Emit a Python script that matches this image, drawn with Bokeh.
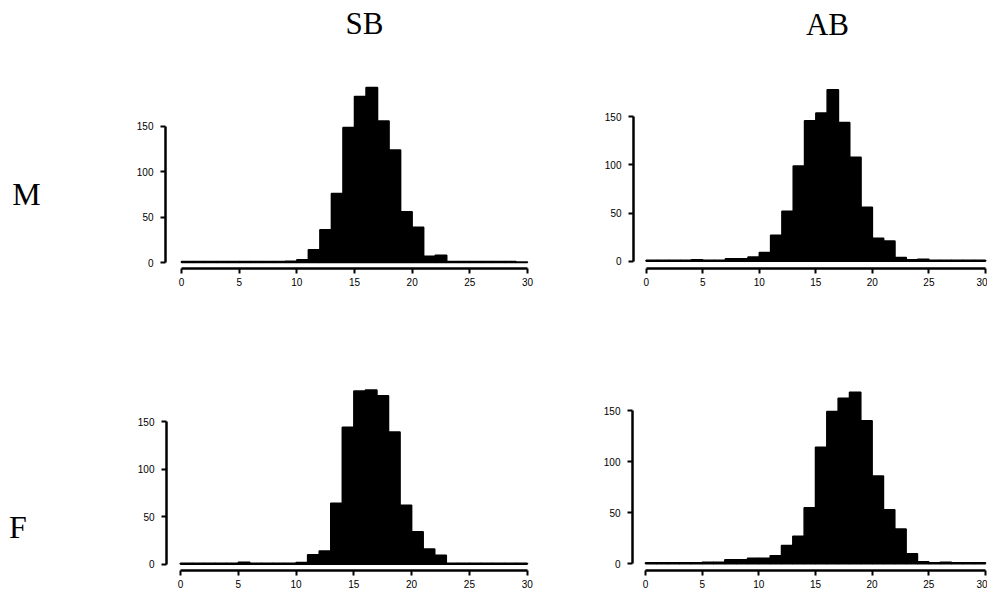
from bokeh.plotting import figure
from bokeh.layouts import column, row
from bokeh.core.properties import value
from bokeh.embed import file_html
from bokeh.resources import INLINE

# ---- data (counts per unit-width bin, 0..30) ----
BIN_EDGES = list(range(0, 31))
X_TICKS = [0, 5, 10, 15, 20, 25, 30]
Y_TICKS = [0, 50, 100, 150]
COL_LABELS = ["SB", "AB"]
ROW_LABELS = ["M", "F"]

M_SB = [1, 1, 1, 1, 1, 1, 1, 1, 1, 1.5, 3, 14, 36, 76, 149, 183, 193, 156, 124,
        56, 39, 7, 8, 1, 1, 1, 1, 1, 1, 0.5]
M_AB = [1, 1, 1, 1, 1.5, 1, 1, 2.5, 2.5, 4.5, 9, 27, 52, 99, 146, 154, 178, 144,
        108, 56, 24, 21, 4, 1.5, 2, 1, 1, 1, 1, 1]
F_SB = [1, 1, 1, 1, 1, 2, 1, 1, 1, 1, 1.7, 10, 14, 64, 144, 182, 183, 177, 139,
        62, 34, 16, 9.5, 1, 1, 1, 1, 1, 1, 1]
F_AB = [1, 1, 1, 1, 1, 1.5, 1.5, 4, 4, 5.5, 5.5, 8, 18, 27, 55, 114, 149, 162,
        168, 140, 86, 53, 34, 10, 2, 1, 1.5, 1, 1, 1]

LABEL_FONT = "Liberation Serif"
TOTAL_W = 987
HEADER_H = 50
ROW1_H = 250
ROW2_H = 292
LEFT_W = 60


def text_fig(width, height):
    p = figure(width=width, height=height, x_range=(0, width), y_range=(0, height),
               output_backend="svg", toolbar_location=None,
               min_border=0, x_axis_type=None, y_axis_type=None)
    p.title.visible = False
    p.xgrid.visible = False
    p.ygrid.visible = False
    p.outline_line_color = None
    return p


def panel(counts, width, height, xr, yr, mb_left, mb_right, mb_top, mb_bottom):
    p = figure(width=width, height=height, x_range=xr, y_range=yr,
               output_backend="svg", toolbar_location=None,
               min_border_left=mb_left, min_border_right=mb_right,
               min_border_top=mb_top, min_border_bottom=mb_bottom)
    p.title.visible = False
    p.quad(left=BIN_EDGES[:-1], right=BIN_EDGES[1:], bottom=0, top=counts,
           fill_color="black", line_color="black", line_width=1.5)
    p.xgrid.visible = False
    p.ygrid.visible = False
    p.outline_line_color = None
    p.xaxis.ticker = X_TICKS
    p.yaxis.ticker = Y_TICKS
    p.xaxis.bounds = (X_TICKS[0], X_TICKS[-1])
    p.yaxis.bounds = (Y_TICKS[0], Y_TICKS[-1])
    for ax in (p.xaxis, p.yaxis):
        ax.axis_line_width = 2.5
        ax.axis_line_color = "black"
        ax.major_tick_line_width = 2
        ax.major_tick_line_color = "black"
        ax.major_tick_out = 5
        ax.major_tick_in = 0
        ax.minor_tick_line_color = None
        ax.major_label_text_font = "Liberation Sans"
        ax.major_label_text_font_size = "10px"
        ax.major_label_text_color = "black"
    p.xaxis.major_label_standoff = 4
    p.yaxis.major_label_standoff = 7
    p.yaxis.major_label_orientation = "horizontal"
    return p


# header with column titles
header = text_fig(TOTAL_W, HEADER_H)
header.text(x=[364, 827], y=[27.5, 26], text=COL_LABELS, text_align="center",
            text_baseline="middle", text_font=value(LABEL_FONT),
            text_font_size="31px", text_color="black")

# row labels
lab1 = text_fig(LEFT_W, ROW1_H)
lab1.text(x=[26], y=[98.5], text=[ROW_LABELS[0]], text_align="center",
          text_baseline="middle", text_font=value(LABEL_FONT),
          text_font_size="32px", text_color="black")
lab2 = text_fig(LEFT_W, ROW2_H)
lab2.text(x=[17.5], y=[67.5], text=[ROW_LABELS[1]], text_align="center",
          text_baseline="middle", text_font=value(LABEL_FONT),
          text_font_size="32px", text_color="black")

# top-left: M / SB
pA = panel(M_SB, 530, ROW1_H, (-1.387, 31.13), (-6.6, 200.7), 105, 50, 30, 32)
# top-right: M / AB
pB = panel(M_AB, TOTAL_W - LEFT_W - 530, ROW1_H, (-1.123, 30.18), (-7.5, 187.7), 43, 0, 30, 30)
# bottom-left: F / SB
pC = panel(F_SB, 530, ROW2_H, (-1.211, 31.15), (-6.62, 193.1), 106, 50, 80, 22)
# bottom-right: F / AB
pD = panel(F_AB, TOTAL_W - LEFT_W - 530, ROW2_H, (-1.147, 30.18), (-6.5, 179.4), 42, 0, 80, 20)

layout = column(header, row(lab1, pA, pB), row(lab2, pC, pD))

open("out.html", "w").write(file_html(layout, INLINE))
